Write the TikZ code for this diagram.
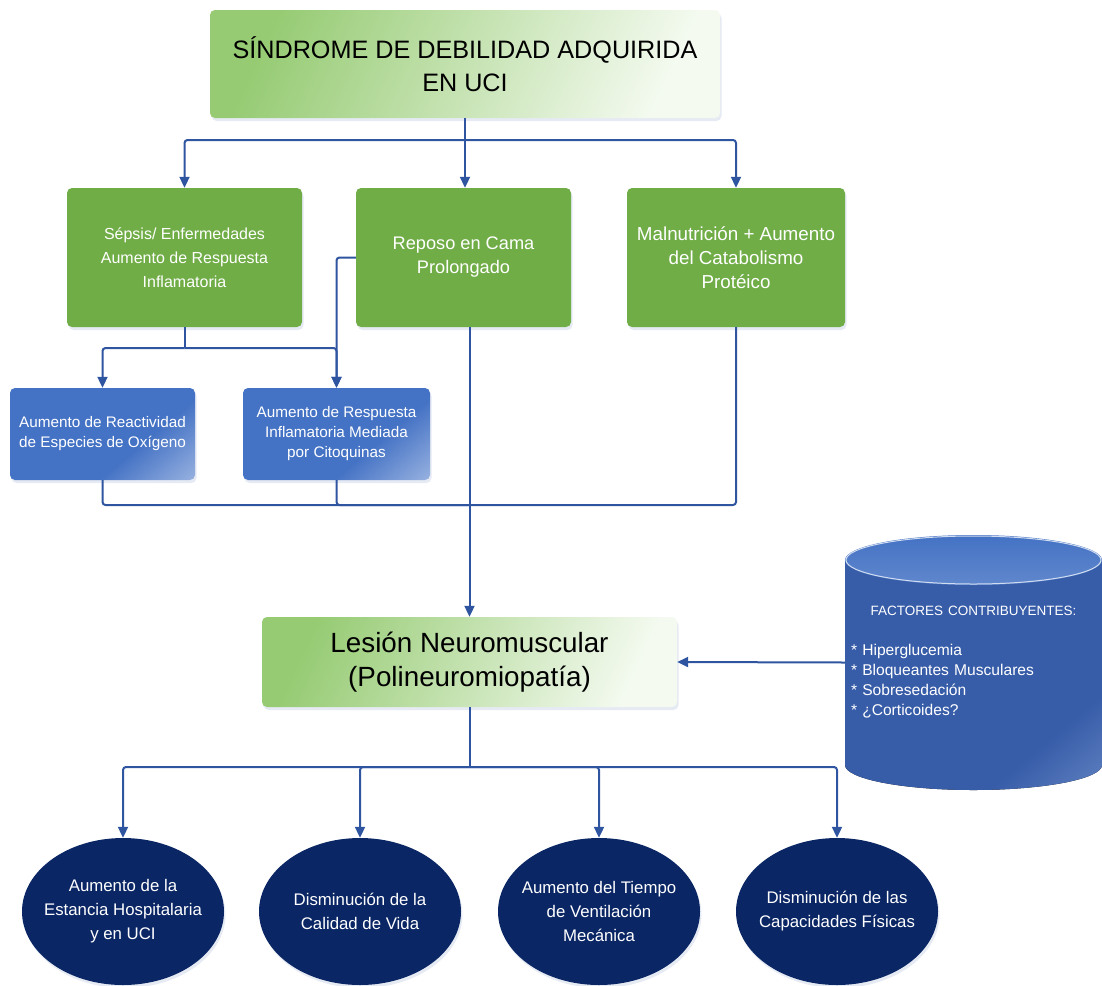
\documentclass[tikz,border=0pt]{standalone}
\usepackage{fontspec}
\setmainfont{Liberation Sans}
\usetikzlibrary{positioning,shapes.geometric,arrows.meta,shadows}

\definecolor{linkblue}{RGB}{47,85,160}
\definecolor{boxgreen}{RGB}{112,173,71}
\definecolor{lightgreen}{RGB}{150,203,115}
\definecolor{palegreen}{RGB}{244,250,240}
\definecolor{boxblue}{RGB}{68,114,196}
\definecolor{paleblue}{RGB}{205,218,242}
\definecolor{drumblue}{RGB}{55,92,168}
\definecolor{navy}{RGB}{10,38,100}

\pgfdeclareverticalshading{bluecorner}{100bp}{color(0bp)=(paleblue); color(38bp)=(boxblue); color(100bp)=(boxblue)}
\pgfdeclareverticalshading{drumbody}{100bp}{color(0bp)=(boxblue!65!white); color(30bp)=(drumblue); color(100bp)=(drumblue)}

\begin{document}
\begin{tikzpicture}[
  x=1pt, y=1pt,
  every path/.style={>={Triangle[length=11pt,width=10pt]}},
  link/.style={draw=linkblue,line width=2pt,rounded corners=3pt},
  soft/.style={drop shadow={shadow xshift=1.5pt,shadow yshift=-3pt,fill=linkblue!35,opacity=0.35}},
  headbox/.style={rectangle,rounded corners=5pt,soft,top color=lightgreen,bottom color=palegreen,shading angle=65,text=black,align=center},
  causebox/.style={rectangle,rounded corners=5pt,soft,fill=boxgreen,text=white,align=center,minimum height=139pt},
  mechbox/.style={rectangle,rounded corners=5pt,soft,shading=bluecorner,shading angle=40,text=white,align=center,minimum height=92pt,font=\fontsize{15.3}{20}\selectfont},
  effect/.style={ellipse,soft,fill=navy,text=white,align=center,minimum width=202pt,minimum height=147pt,inner xsep=-14pt,inner ysep=0pt,font=\fontsize{16.8}{24}\selectfont},
  ]
  \useasboundingbox (0,0) rectangle (1102,-985);

  % the drum of contributing factors
  \fill[shading=drumbody,shading angle=40] (845,-560) -- (845,-765)
    arc[start angle=180,end angle=360,x radius=128.5pt,y radius=25pt] -- (1102,-560) -- cycle;
  \shade[top color=boxblue,bottom color=boxblue!85!white] (973.5,-560) ellipse[x radius=128.5pt,y radius=25pt];
  \draw[white!75!boxblue,line width=1pt] (973.5,-560) ellipse[x radius=127.5pt,y radius=24pt];

  \node[headbox,minimum width=510pt,minimum height=108pt,font=\fontsize{25.2}{33}\selectfont] (syndrome) at (465,-64)
    {SÍNDROME DE DEBILIDAD ADQUIRIDA\\EN UCI};

  \node[causebox,minimum width=235pt,font=\fontsize{16}{24}\selectfont] (sepsis) at (184.5,-257.5)
    {Sépsis/ Enfermedades\\Aumento de Respuesta\\Inflamatoria};
  \node[causebox,minimum width=215pt,font=\fontsize{18.2}{24}\selectfont] (reposo) at (463.5,-257.5)
    {Reposo en Cama\\Prolongado};
  \node[causebox,minimum width=218pt,font=\fontsize{18.8}{24}\selectfont] (malnutricion) at (736,-257.5)
    {Malnutrición + Aumento\\del Catabolismo\\Protéico};

  \node[mechbox,minimum width=185pt] (reactividad) at (102.5,-434)
    {Aumento de Reactividad\\de Especies de Oxígeno};
  \node[mechbox,minimum width=187pt] (citoquinas) at (336.5,-434)
    {Aumento de Respuesta\\Inflamatoria Mediada\\por Citoquinas};

  \node[headbox,minimum width=415pt,minimum height=90pt,font=\fontsize{27.8}{34}\selectfont] (lesion) at (469.5,-662)
    {Lesión Neuromuscular\\(Polineuromiopatía)};

  \node[text=white,minimum width=257pt,minimum height=255pt,inner sep=0pt,text width=245pt,align=left,
    font=\fontsize{15.6}{20}\selectfont] (factores) at (973.5,-662.5)
    {\makebox[245pt]{\fontsize{13.5}{20}\selectfont FACTORES CONTRIBUYENTES:}\\[20pt]
     {}* Hiperglucemia\\
     {}* Bloqueantes Musculares\\
     {}* Sobresedación\\
     {}* ¿Corticoides?};

  \node[effect] (estancia) at (123,-911.5) {Aumento de la\\Estancia Hospitalaria\\y en UCI};
  \node[effect] (calidad) at (360,-911.5) {Disminución de la\\Calidad de Vida};
  \node[effect] (ventilacion) at (599,-911.5) {Aumento del Tiempo\\de Ventilación\\Mecánica};
  \node[effect] (capacidades) at (837,-911.5) {Disminución de las\\Capacidades Físicas};

  % connectors
  \coordinate (fork1) at (465,-140);
  \draw[link] (syndrome.south) -- (fork1);
  \draw[link,->] (fork1) -| (sepsis.north);
  \draw[link,->] (fork1) -- (fork1 |- reposo.north);
  \draw[link,->] (fork1) -| (malnutricion.north);

  \coordinate (fork2) at (184.5,-348);
  \draw[link] (sepsis.south) -- (fork2);
  \draw[link,->] (fork2) -| (reactividad.north);
  \draw[link,->] (fork2) -| (citoquinas.north);
  \draw[link,->] (reposo.west) -| (citoquinas.north);

  \coordinate (merge) at (469.5,-505);
  \draw[link] (reactividad.south) |- (merge);
  \draw[link] (citoquinas.south) |- (merge);
  \draw[link] (malnutricion.south) |- (merge);
  \draw[link,->] (reposo.south -| lesion.north) -- (lesion.north);

  \draw[link,->] (factores.west) -- (lesion.east);

  \coordinate (fork3) at (469.5,-767);
  \draw[link] (lesion.south) -- (fork3);
  \foreach \effectname in {estancia,calidad,ventilacion,capacidades}
    \draw[link,->] (fork3) -| (\effectname.north);
\end{tikzpicture}
\end{document}
